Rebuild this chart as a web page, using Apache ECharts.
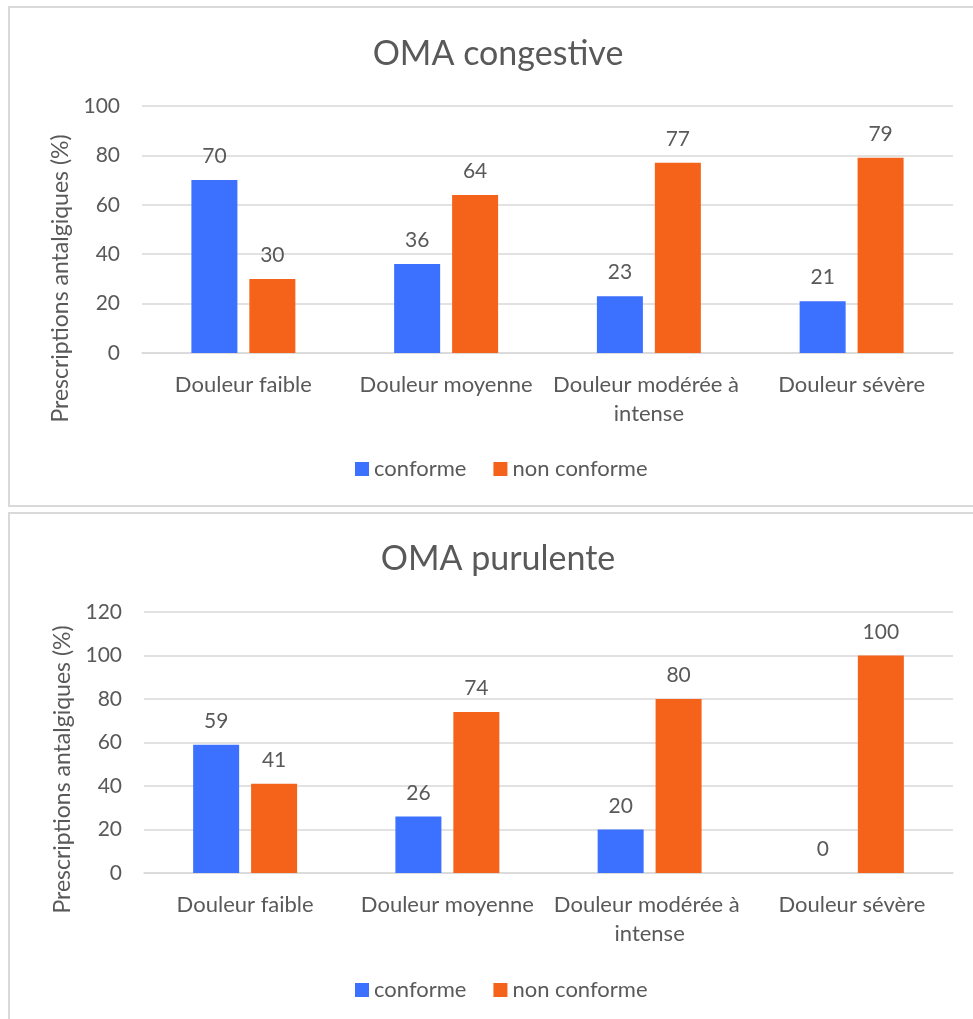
<!DOCTYPE html>
<html>
<head>
<meta charset="utf-8">
<script src="https://cdn.jsdelivr.net/npm/echarts@6/dist/echarts.min.js"></script>
<style>
  html, body { margin: 0; padding: 0; background: #ffffff; }
  #chart { width: 973px; height: 1019px; }
</style>
</head>
<body>
<div id="chart"></div>
<script>
// Pain-level categories shared by both panels
const categories = ['Douleur faible', 'Douleur moyenne', 'Douleur modérée à intense', 'Douleur sévère'];
const seriesNames = ['conforme', 'non conforme'];

// OMA congestive (%)
const congestiveConforme = [70, 36, 23, 21];
const congestiveNonConforme = [30, 64, 77, 79];

// OMA purulente (%)
const purulenteConforme = [59, 26, 20, 0];
const purulenteNonConforme = [41, 74, 80, 100];

const titles = ['OMA congestive', 'OMA purulente'];
const yAxisName = 'Prescriptions antalgiques (%)';

const FONT = 'Lato, "Open Sans", sans-serif';
const TEXT = '#595959';
const GRIDLINE = '#d9d9d9';
const BLUE = '#3c70ff';
const ORANGE = '#f5621a';

const chart = echarts.init(document.getElementById('chart'), null, { renderer: 'canvas' });

function bar(name, data, axisIdx, color) {
  return {
    name: name,
    type: 'bar',
    xAxisIndex: axisIdx,
    yAxisIndex: axisIdx,
    data: data,
    barWidth: 46,
    barGap: '26%',
    itemStyle: { color: color },
    label: {
      show: true,
      position: 'top',
      distance: 13,
      color: TEXT,
      fontFamily: FONT,
      fontSize: 21
    },
    emphasis: { disabled: true }
  };
}

function xAxis(gridIdx) {
  return {
    type: 'category',
    gridIndex: gridIdx,
    data: categories,
    axisTick: { show: false },
    axisLine: { lineStyle: { color: GRIDLINE, width: 1.5 } },
    axisLabel: {
      color: TEXT,
      fontFamily: FONT,
      fontSize: 22,
      margin: 17,
      lineHeight: 29,
      width: 228,
      overflow: 'break',
      interval: 0
    }
  };
}

function yAxis(gridIdx, max, shift) {
  return {
    type: 'value',
    gridIndex: gridIdx,
    min: 0,
    max: max,
    interval: 20,
    name: yAxisName,
    nameLocation: 'middle',
    nameGap: 68,
    nameTextStyle: {
      color: TEXT, fontFamily: FONT, fontSize: 23,
      // push the title downward along the axis
      padding: [0, shift, 0, 0]
    },
    axisLine: { show: false },
    axisTick: { show: false },
    axisLabel: { color: TEXT, fontFamily: FONT, fontSize: 21, margin: 22 },
    splitLine: { lineStyle: { color: GRIDLINE, width: 1.5 } }
  };
}

function legend(top) {
  return {
    data: seriesNames,
    top: top,
    left: 350,
    icon: 'rect',
    itemWidth: 14,
    itemHeight: 14,
    itemGap: 27,
    textStyle: { color: TEXT, fontFamily: FONT, fontSize: 22 },
    selectedMode: false
  };
}

chart.setOption({
  animation: false,
  backgroundColor: '#ffffff',
  graphic: [
    { type: 'rect', shape: { x: 9, y: 7, width: 990, height: 499 },
      style: { fill: 'none', stroke: GRIDLINE, lineWidth: 2 }, silent: true },
    { type: 'rect', shape: { x: 9, y: 513, width: 990, height: 520 },
      style: { fill: 'none', stroke: GRIDLINE, lineWidth: 2 }, silent: true }
  ],
  title: [
    { text: titles[0], left: 493, top: 32, textAlign: 'center',
      textStyle: { color: TEXT, fontFamily: FONT, fontSize: 34, fontWeight: 'normal' } },
    { text: titles[1], left: 493, top: 537, textAlign: 'center',
      textStyle: { color: TEXT, fontFamily: FONT, fontSize: 34, fontWeight: 'normal' } }
  ],
  legend: [
    Object.assign(legend(453), { id: 'lg0' }),
    Object.assign(legend(974), { id: 'lg1' })
  ],
  grid: [
    { left: 142, right: 20, top: 106, height: 247 },
    { left: 144, right: 20, top: 612, height: 261 }
  ],
  xAxis: [xAxis(0), xAxis(1)],
  yAxis: [yAxis(0, 100, 98), yAxis(1, 120, 54)],
  series: [
    bar(seriesNames[0], congestiveConforme, 0, BLUE),
    bar(seriesNames[1], congestiveNonConforme, 0, ORANGE),
    bar(seriesNames[0], purulenteConforme, 1, BLUE),
    bar(seriesNames[1], purulenteNonConforme, 1, ORANGE)
  ]
});
</script>
</body>
</html>
